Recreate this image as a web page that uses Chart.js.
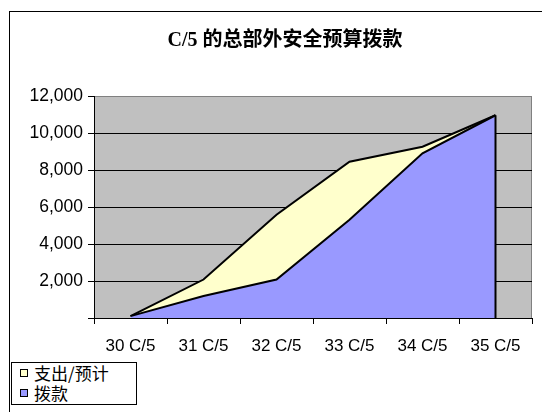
<!DOCTYPE html>
<html>
<head>
<meta charset="utf-8">
<script src="https://cdn.jsdelivr.net/npm/chart.js@4/dist/chart.umd.min.js"></script>
<style>
  html, body { margin: 0; padding: 0; background: #fff; }
  #wrap { position: relative; width: 542px; height: 412px; overflow: hidden; }
  #frame { position: absolute; left: 9px; top: 11px; width: 600px; height: 500px; border: 1px solid #000; box-sizing: border-box; }
  #title {
    position: absolute; left: 0; top: 29px; width: 570px; text-align: center;
    font-family: 'Liberation Serif', 'Noto Sans CJK SC', serif; font-weight: bold; font-size: 20px; line-height: 20px; color: #000;
  }
  #legend {
    position: absolute; left: 11px; top: 362px; width: 126px; height: 43px;
    border: 1px solid #000; box-sizing: border-box; background: #fff; overflow: hidden;
    font-family: 'Noto Sans CJK SC', sans-serif; font-size: 17px; line-height: 20px; color: #000;
  }
  #legend div { height: 20px; white-space: nowrap; }
  #legend span.sw { display: inline-block; width: 6px; height: 6px; border: 1px solid #000; margin: 0 6px 0 8px; vertical-align: 3px; }
  canvas { position: absolute; left: 0; top: 0; }
</style>
</head>
<body>
<div id="wrap">
  <div id="frame"></div>
  <canvas id="chart" width="542" height="412"></canvas>
  <div id="title"></div>
  <div id="legend"></div>
</div>
<script>
const chartTitle = 'C/5 的总部外安全预算拨款';
const categories = ['30 C/5', '31 C/5', '32 C/5', '33 C/5', '34 C/5', '35 C/5'];
const seriesNames = ['支出/预计', '拨款'];
const spending = [100, 2080, 5580, 8450, 9260, 10960];
const appropriation = [100, 1185, 2083, 5310, 8900, 10960];
const yTicks = [0, 2000, 4000, 6000, 8000, 10000, 12000];
const colors = ['#FFFFCC', '#9999FF'];

// plot background + grey border
const plotBg = {
    id: 'plotBg',
    beforeDraw(chart) {
        const { ctx, chartArea: a } = chart;
        ctx.save();
        ctx.fillStyle = '#C0C0C0';
        ctx.fillRect(a.left, a.top, a.right - a.left, a.bottom - a.top);
        ctx.strokeStyle = '#808080';
        ctx.lineWidth = 1;
        ctx.strokeRect(a.left + 0.5, a.top + 0.5, a.right - a.left - 1, a.bottom - a.top);
        ctx.restore();
    },
    // closing edge of the area at the last point
    afterDatasetsDraw(chart) {
        const { ctx } = chart;
        const meta = chart.getDatasetMeta(1);
        const last = meta.data[meta.data.length - 1];
        const y0 = chart.scales.y.getPixelForValue(0);
        ctx.save();
        ctx.strokeStyle = '#000';
        ctx.lineWidth = 2;
        ctx.beginPath();
        ctx.moveTo(last.x, last.y);
        ctx.lineTo(last.x, y0);
        ctx.stroke();
        ctx.restore();
    }
};

new Chart(document.getElementById('chart'), {
    type: 'line',
    data: {
        labels: categories,
        datasets: [{
            label: seriesNames[0],
            data: spending,
            backgroundColor: colors[0],
            borderColor: '#000',
            borderWidth: 2,
            fill: 'origin',
            tension: 0,
            pointRadius: 0,
            order: 1
        }, {
            label: seriesNames[1],
            data: appropriation,
            backgroundColor: colors[1],
            borderColor: '#000',
            borderWidth: 2,
            fill: 'origin',
            tension: 0,
            pointRadius: 0,
            order: 0
        }]
    },
    options: {
        responsive: false,
        animation: false,
        layout: { padding: { left: 0, right: 10, top: 96, bottom: 0 } },
        plugins: {
            legend: { display: false },
            tooltip: { enabled: false },
            title: { display: false }
        },
        scales: {
            x: {
                offset: true,
                grid: { offset: true, drawOnChartArea: false, drawTicks: true, tickLength: 6, tickColor: '#000' },
                border: { display: true, color: '#000', width: 1 },
                ticks: { color: '#000', padding: 12, maxRotation: 0, autoSkip: false,
                         font: { family: "'Liberation Sans', Arial", size: 17 } },
                afterFit: (s) => { s.height = 94; }
            },
            y: {
                min: yTicks[0],
                max: yTicks[yTicks.length - 1],
                afterBuildTicks: (s) => { s.ticks = yTicks.map(v => ({ value: v })); },
                grid: {
                    color: (c) => c.tick && c.tick.value === 12000 ? '#808080' : '#000',
                    tickColor: '#000',
                    tickLength: 6,
                    lineWidth: 1
                },
                border: { display: true, color: '#000', width: 1 },
                ticks: {
                    color: '#000', padding: 5,
                    font: { family: "'Liberation Sans', Arial", size: 17.5 },
                    callback: (v) => v === 0 ? '' : v.toLocaleString('en-US')
                },
                afterFit: (s) => { s.width = 94; }
            }
        }
    },
    plugins: [plotBg]
});

document.getElementById('title').textContent = chartTitle;

// legend box
const lg = document.getElementById('legend');
seriesNames.forEach((n, i) => {
    const row = document.createElement('div');
    row.innerHTML = '<span class="sw" style="background:' + colors[i] + '"></span>' + n;
    lg.appendChild(row);
});
</script>
</body>
</html>
